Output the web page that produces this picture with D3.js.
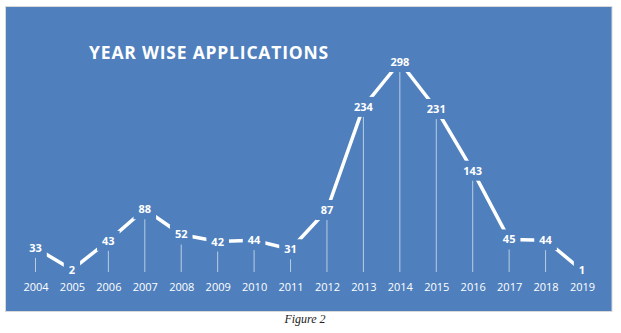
<!DOCTYPE html>
<html><head><meta charset="utf-8">
<script src="https://cdn.jsdelivr.net/npm/d3@7/dist/d3.min.js"></script>
<style>
html,body{margin:0;padding:0;background:#fff;}
svg{display:block;}
</style></head>
<body>
<svg id="chart" width="621" height="333"></svg>
<script>
const years = ["2004","2005","2006","2007","2008","2009","2010","2011","2012","2013","2014","2015","2016","2017","2018","2019"];
const applications = [33,2,43,88,52,42,44,31,87,234,298,231,143,45,44,1];
const titleText = "YEAR WISE APPLICATIONS";
const captionText = "Figure 2";

const svg = d3.select("#chart");
const bg = "#4F80BD";

svg.append("rect").attr("x",5.5).attr("y",6.5).attr("width",606.5).attr("height",305)
  .attr("fill",bg).attr("stroke","#d9d9d9").attr("stroke-width",1);

const x = d3.scalePoint().domain(years).range([35.5,582]);
const y = d3.scaleLinear().domain([0,298]).range([271,62]);

svg.append("text").attr("x",209).attr("y",59).attr("text-anchor","middle")
  .attr("fill","#fff").attr("font-family","'Open Sans', sans-serif").attr("font-weight","bold")
  .attr("font-size",17.5).attr("letter-spacing",0.8).text(titleText);

const data = years.map((yr,i)=>({yr, v: applications[i]}));

// drop lines
svg.append("g").selectAll("line").data(data).join("line")
  .attr("x1",d=>x(d.yr)).attr("x2",d=>x(d.yr))
  .attr("y1",d=>y(d.v)).attr("y2",y(0)+1)
  .attr("stroke","#fff").attr("stroke-opacity",0.6).attr("stroke-width",1);

// line
svg.append("path").datum(data)
  .attr("d", d3.line().x(d=>x(d.yr)).y(d=>y(d.v)))
  .attr("fill","none").attr("stroke","#fff").attr("stroke-width",3.5).attr("stroke-linejoin","miter");

// labels with background
const lg = svg.append("g").selectAll("g").data(data).join("g")
  .attr("transform",d=>`translate(${x(d.yr)},${y(d.v)})`);
lg.append("rect")
  .attr("x",d=>-(String(d.v).length*6.3)/2-5)
  .attr("width",d=>String(d.v).length*6.3+10)
  .attr("y",-10).attr("height",20).attr("fill",bg);
lg.append("text").attr("text-anchor","middle").attr("dy","0.36em")
  .attr("fill","#fff").attr("font-family","'Open Sans', sans-serif").attr("font-weight","bold")
  .attr("font-size",11).text(d=>d.v);

// x axis labels
const xAxis = d3.axisBottom(x).tickSize(0).tickPadding(0);
const ax = svg.append("g").attr("transform","translate(0,283)").call(xAxis);
ax.select(".domain").remove();
ax.selectAll("text").attr("fill","#fff").attr("font-family","'Open Sans', sans-serif")
  .attr("font-size",11);

svg.append("text").attr("x",305).attr("y",323).attr("text-anchor","middle")
  .attr("font-family","'Liberation Serif', serif").attr("font-style","italic")
  .attr("font-size",12).attr("fill","#222").text(captionText);
</script>
</body></html>
